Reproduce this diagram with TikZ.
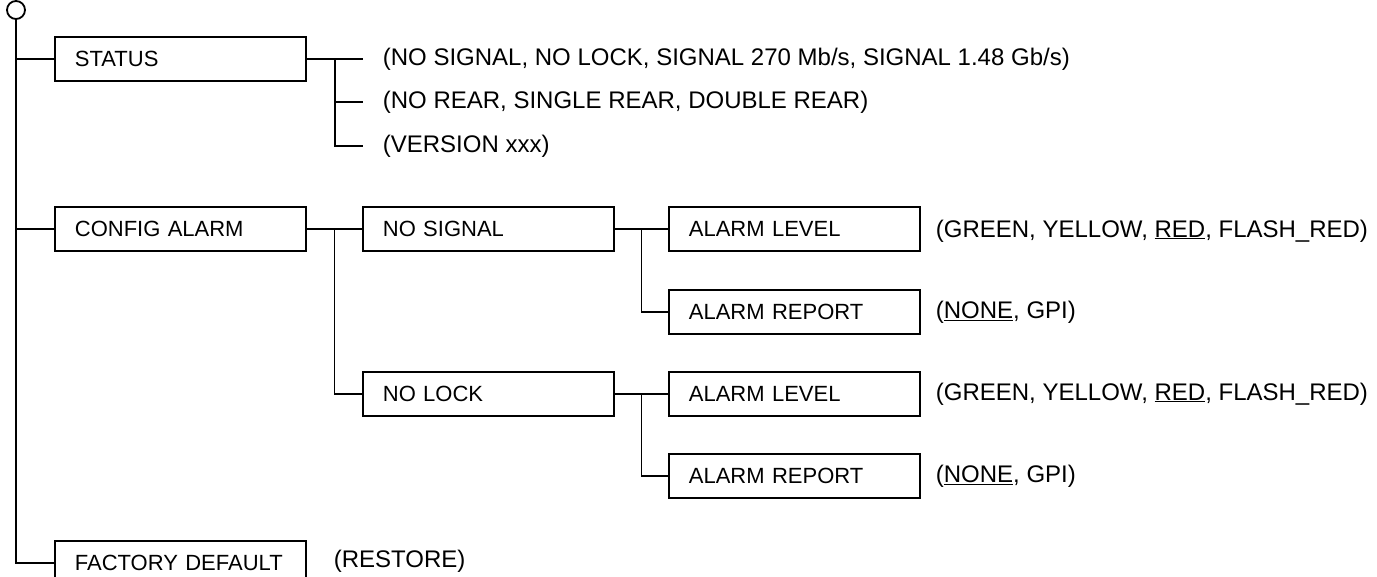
\documentclass[tikz,border=0pt]{standalone}
\usepackage{fontspec}
\setmainfont{Liberation Sans}
\usepackage{tikz}
\usetikzlibrary{
	positioning,
	calc
}

\begin{document}
\begin{tikzpicture}[
			x=1pt,y=-1pt,
			line width=1.8pt,
			font=\fontsize{24}{28}\selectfont,
			menubox/.style={rectangle,draw,anchor=west,minimum height=44pt,
				font=\fontsize{22}{26}\selectfont,
				text width=211pt,align=left,inner xsep=20pt,inner ysep=0pt},
			stub/.style={anchor=west,inner xsep=19pt,inner ysep=0pt},
			choice/.style={anchor=west,inner sep=0pt}
			]
			\useasboundingbox (0,0) rectangle (1377,577);
			
			% Root
			\node[circle,draw,minimum size=18pt,inner sep=0pt] (top) at (16,10){};
			
			% Top level
			\node[menubox] (status) at (54,59){STATUS};
			\node[menubox] (config) at (54,229){CONFIG ALARM};
			\node[menubox] (factory) at (54,563){\mbox{FACTORY DEFAULT}};
			
			% Status values
			\node[stub] (st1) at (363,59){(NO SIGNAL, NO LOCK, SIGNAL 270 Mb/s, SIGNAL 1.48 Gb/s)};
			\node[stub] (st2) at (363,102){(NO REAR, SINGLE REAR, DOUBLE REAR)};
			\node[stub] (st3) at (363,146){(VERSION xxx)};
			
			% Alarm sources
			\node[menubox] (nosig) at (362,229){NO SIGNAL};
			\node[menubox] (nolock) at (362,394){NO LOCK};
			
			% Alarm settings
			\node[menubox] (lvl1) at (668,229){ALARM LEVEL};
			\node[menubox] (rep1) at (668,312){ALARM REPORT};
			\node[menubox] (lvl2) at (668,394){ALARM LEVEL};
			\node[menubox] (rep2) at (668,476){ALARM REPORT};
			
			% Choices
			\node[choice] (lvl1c) at (935,231){(GREEN, YELLOW, \underline{RED}, FLASH\_RED)};
			\node[choice] (rep1c) at (935,312){(\underline{NONE}, GPI)};
			\node[choice] (lvl2c) at (935,394){(GREEN, YELLOW, \underline{RED}, FLASH\_RED)};
			\node[choice] (rep2c) at (935,476){(\underline{NONE}, GPI)};
			\node[choice] (factc) at (333,561){(RESTORE)};
			
			% Connections
			\draw (top.south) |- (factory.west);
			\foreach \n in {status,config}
			{
				\draw (top.south |- \n.west) -- (\n.west);
			}
			
			\draw (status.east) -- (st1.west);
			\draw ($(status.east)!0.5!(st1.west)$) |- (st3.west);
			\draw ($(status.east)!0.5!(st1.west)$) |- (st2.west);
			
			\draw (config.east) -- (nosig.west);
			\draw ($(config.east)!0.5!(nosig.west)$) |- (nolock.west);
			
			\foreach \s/\l/\r in {nosig/lvl1/rep1,nolock/lvl2/rep2}
			{
				\draw (\s.east) -- (\l.west);
				\draw ($(\s.east)!0.5!(\l.west)$) |- (\r.west);
			}
			
		\end{tikzpicture}
\end{document}
